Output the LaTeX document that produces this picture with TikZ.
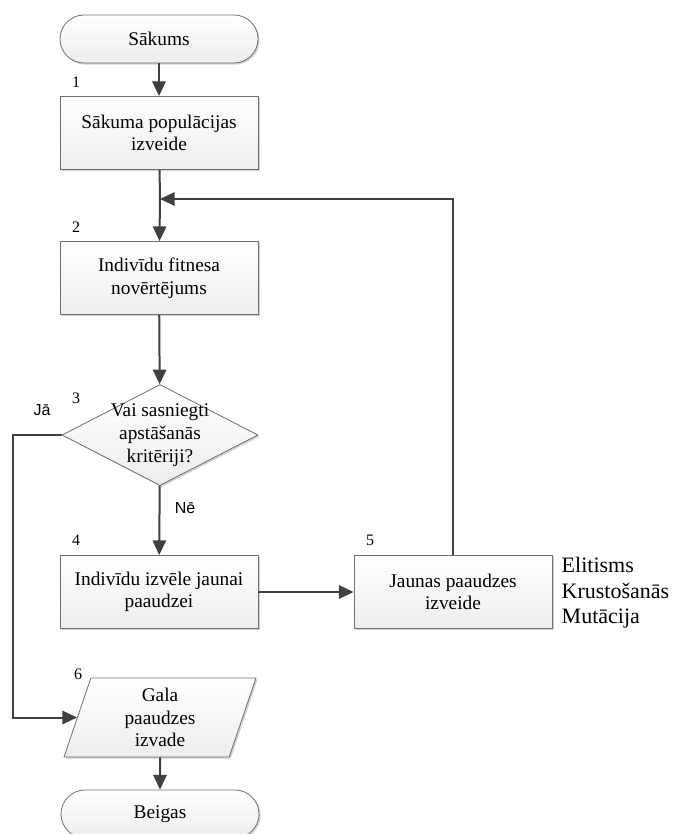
\documentclass[tikz,border=0pt]{standalone}
\usepackage{fontspec}
\setmainfont{Liberation Serif}
\newfontfamily\yesnofont{Liberation Sans}
\usetikzlibrary{shapes.geometric,arrows.meta,shadows}
\definecolor{boxfill}{HTML}{EDEDED}
\definecolor{boxline}{HTML}{707070}
\definecolor{flowline}{HTML}{404040}
\tikzset{
  shaded box/.style={draw=boxline, line width=0.6pt, top color=white, bottom color=boxfill,
    drop shadow={shadow xshift=1.2pt, shadow yshift=-1.2pt, fill=black, opacity=0.18},
    font=\fontsize{14.5}{17}\selectfont, align=center, inner sep=0pt},
  startstop/.style={shaded box, minimum width=148.5pt, minimum height=36pt, rounded corners=18pt},
  procbox/.style={shaded box, minimum width=148.5pt, minimum height=54.75pt},
  decision/.style={shaded box, diamond, minimum width=147pt, minimum height=75.75pt},
  iobox/.style={shaded box, trapezium, trapezium left angle=65.5, trapezium right angle=114.5,
    trapezium stretches body, minimum width=144pt, minimum height=59.25pt},
  numlabel/.style={font=\fontsize{12}{14}\selectfont},
  flow/.style={draw=flowline, line width=1.5pt, -{Triangle[length=11pt,width=10pt]}},
  plainflow/.style={draw=flowline, line width=1.5pt}
}
\begin{document}
\begin{tikzpicture}[x=0.75pt,y=-0.75pt]
\useasboundingbox (0,0) rectangle (674,834);
% steps
\node[startstop] (start) at (159,39) {Sākums};
\node[procbox] (b1) at (159,133) {Sākuma populācijas\\izveide};
\node[procbox] (b2) at (159,278) {Indivīdu fitnesa\\novērtējums};
\node[decision] (d3) at (160,435) {};
\node[align=center, font=\fontsize{14.5}{17}\selectfont] (d3text) at (d3) {Vai sasniegti\\apstāšanās\\kritēriji?};
\node[procbox] (b4) at (159,592) {Indivīdu izvēle jaunai\\paaudzei};
\node[procbox] (b5) at (453,592) {Jaunas paaudzes\\izveide};
\node[iobox] (out) at (160,717.5) {Gala\\paaudzes\\izvade};
\node[startstop] (stop) at (160,814) {Beigas};
% numbers
\node[numlabel] (n1) at (76,82) {1};
\node[numlabel] (n2) at (76,227) {2};
\node[numlabel] (n3) at (76,398) {3};
\node[numlabel] (n4) at (76,540) {4};
\node[numlabel] (n5) at (370,540) {5};
\node[numlabel] (n6) at (78,674) {6};
\node[font=\yesnofont\fontsize{12}{14}\selectfont] (yes) at (42,410) {Jā};
\node[font=\yesnofont\fontsize{12}{14}\selectfont] (no) at (185,508) {Nē};
\node[anchor=west, align=left, font=\fontsize{16.5}{19}\selectfont] (ops) at (557,593) {Elitisms\\Krustošanās\\Mutācija};
% connectors
\coordinate (join) at (160,199);
\draw[flow] (start) -- (b1);
\draw[plainflow] (b1) -- (join);
\draw[flow] (join) -- (b2);
\draw[flow] (b2) -- (d3);
\draw[flow] (d3) -- (b4);
\draw[flow] (b4) -- (b5);
\draw[flow] (b5.north) |- (join);
\draw[flow] (d3.west) -- (13,435) |- (out.west);
\draw[flow] (out) -- (stop);
\end{tikzpicture}
\end{document}
